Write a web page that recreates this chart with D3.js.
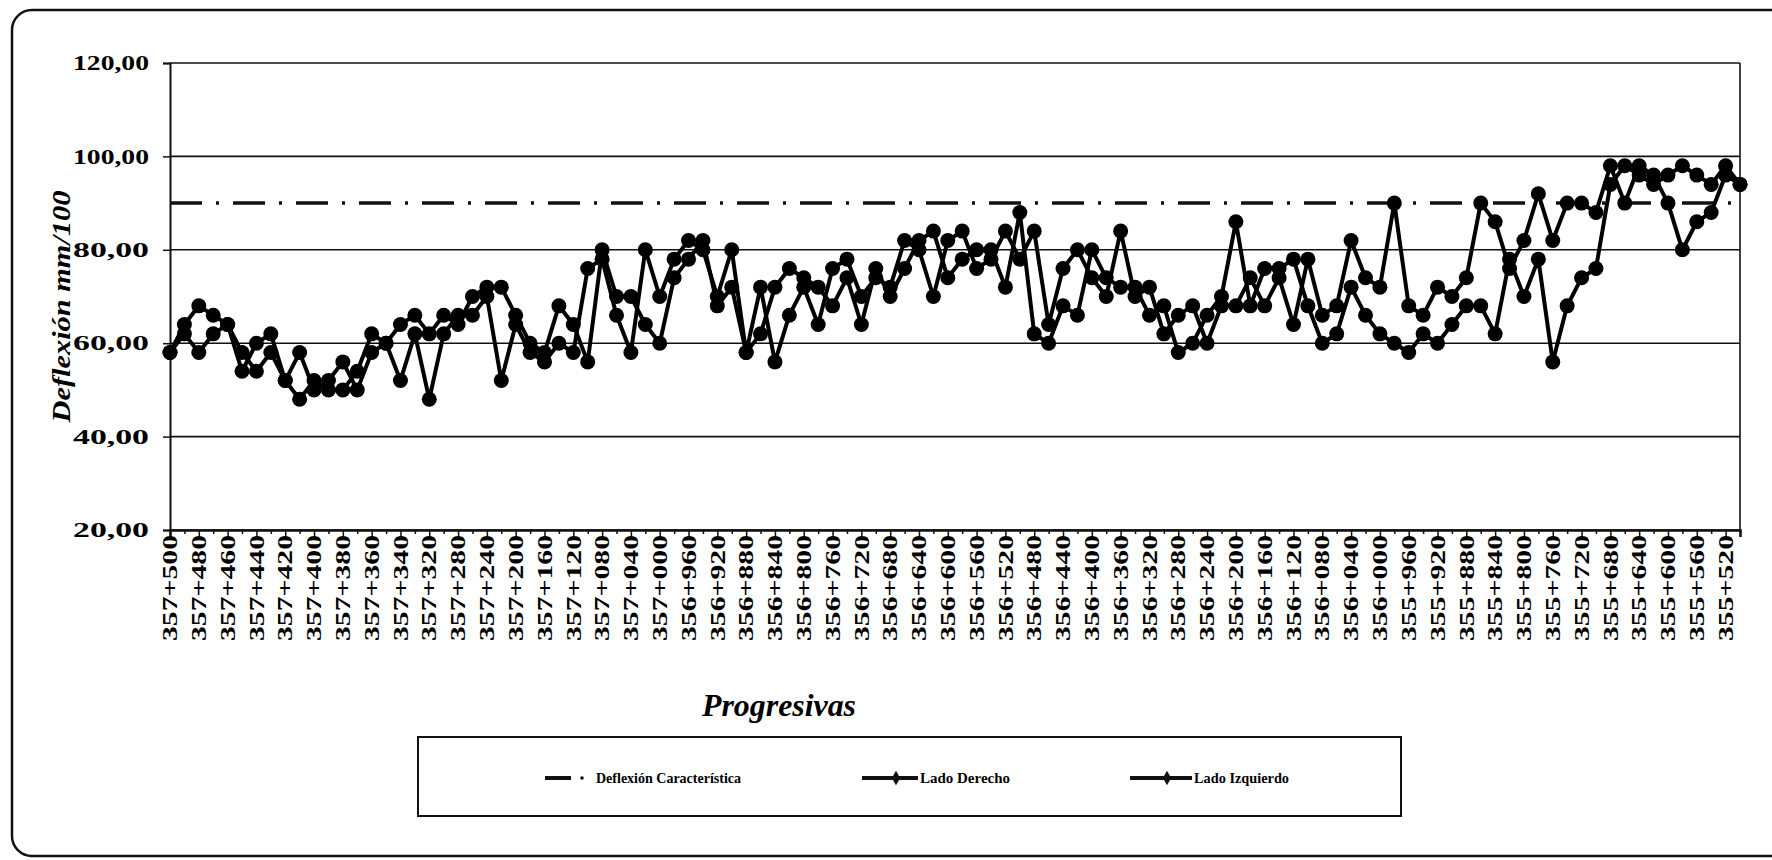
<!DOCTYPE html>
<html>
<head>
<meta charset="utf-8">
<style>
  body { margin: 0; background: #fff; overflow: hidden; }
  svg { display: block; }
  svg text { font-family: "Liberation Serif", "Times New Roman", serif; fill: #000; }
</style>
<script src="https://d3js.org/d3.v7.min.js"></script>
</head>
<body>
<svg width="1772" height="860"></svg>
<script>

// progresivas (every other one is labelled on the axis)
var progresivas = [
  "357+500","357+490","357+480","357+470","357+460","357+450","357+440","357+430","357+420","357+410",
  "357+400","357+390","357+380","357+370","357+360","357+350","357+340","357+330","357+320",
  "357+300","357+280","357+260","357+240","357+220","357+200","357+180","357+160","357+140","357+120",
  "357+100","357+080","357+060","357+040","357+020","357+000",
  "356+980","356+960","356+940","356+920","356+900","356+880","356+860","356+840","356+820","356+800",
  "356+780","356+760","356+740","356+720","356+700","356+680","356+660","356+640","356+620","356+600",
  "356+580","356+560","356+540","356+520","356+500","356+480","356+460","356+440","356+420","356+400",
  "356+380","356+360","356+340","356+320","356+300","356+280","356+260","356+240","356+220","356+200",
  "356+180","356+160","356+140","356+120","356+100","356+080","356+060","356+040","356+020","356+000",
  "355+980","355+960","355+940","355+920","355+900","355+880","355+860","355+840","355+820","355+800",
  "355+780","355+760","355+740","355+720","355+700","355+680","355+660","355+640","355+620","355+600",
  "355+580","355+560","355+540","355+520","355+500"
];

var ladoDerecho = [
  58,64,68,66,64,58,54,58,52,58, 50,52,56,50,58,60,64,66,62,66,
  64,70,72,72,66,60,58,68,64,56, 80,70,70,64,60,74,78,82,68,72,
  58,62,72,76,74,72,68,74,64,76, 70,76,82,84,74,78,80,80,72,88,
  62,60,68,66,80,74,72,72,66,68, 58,60,66,70,86,68,76,76,78,68,
  60,62,72,66,62,60,58,62,60,64, 68,68,62,78,70,78,56,68,74,76,
  94,98,96,94,96,98,96,94,98,94
];

var ladoIzquierdo = [
  58,62,58,62,64,54,60,62,52,48, 52,50,50,54,62,60,52,62,48,62,
  66,66,70,52,64,58,56,60,58,76, 78,66,58,80,70,78,82,80,70,80,
  58,72,56,66,72,64,76,78,70,74, 72,82,80,70,82,84,76,78,84,78,
  84,64,76,80,74,70,84,70,72,62, 66,68,60,68,68,74,68,74,64,78,
  66,68,82,74,72,90,68,66,72,70, 74,90,86,76,82,92,82,90,90,88,
  98,90,98,96,90,80,86,88,96,94
];

var deflexionCaracteristica = 90;

var yTicks = [20, 40, 60, 80, 100, 120];

var svg = d3.select("svg");

// marco redondeado del grafico (el borde derecho queda fuera de la imagen)
svg.append("rect")
  .attr("x", 12).attr("y", 10)
  .attr("width", 1900).attr("height", 846)
  .attr("rx", 20).attr("ry", 20)
  .attr("fill", "none").attr("stroke", "#111").attr("stroke-width", 2.5);

var margin = {top: 63, left: 170},
    width = 1570,
    height = 467,
    g = svg.append("g").attr("transform", "translate(" + margin.left + "," + margin.top + ")");

var x = d3.scalePoint().domain(progresivas).range([0, width]),
    y = d3.scaleLinear().domain([20, 120]).range([height, 0]);

// grilla horizontal
g.selectAll(".grid")
  .data(yTicks)
  .enter().append("line")
    .attr("x1", 0).attr("x2", width)
    .attr("y1", function(d) { return y(d); })
    .attr("y2", function(d) { return y(d); })
    .attr("stroke", "#111").attr("stroke-width", 1.6);

// borde derecho del area
g.append("line")
  .attr("x1", width).attr("x2", width).attr("y1", 0).attr("y2", height)
  .attr("stroke", "#111").attr("stroke-width", 1.6);

// eje Y
var yAxis = g.append("g")
  .call(d3.axisLeft(y).tickValues(yTicks).tickSize(7).tickPadding(14)
    .tickFormat(function(d) { return d3.format(".2f")(d).replace(".", ","); }));
yAxis.select(".domain").attr("stroke", "#111").attr("stroke-width", 2);
yAxis.selectAll(".tick line").attr("stroke", "#111").attr("stroke-width", 1.5);
yAxis.selectAll(".tick text")
  .attr("font-size", 21).attr("font-weight", "bold")
  .attr("font-family", "Liberation Serif, serif")
  .attr("textLength", 76).attr("lengthAdjust", "spacingAndGlyphs");

// eje X
var xAxis = g.append("g")
  .attr("transform", "translate(0," + height + ")")
  .call(d3.axisBottom(x).tickSize(7).tickFormat(""));
xAxis.select(".domain").attr("stroke", "#111").attr("stroke-width", 2.5);
xAxis.selectAll(".tick line")
  .attr("stroke", "#111").attr("stroke-width", 1.5)
  .attr("y2", function(d, i) { return i % 2 === 0 ? 8 : 4; });

g.selectAll(".xlabel")
  .data(progresivas.filter(function(d, i) { return i % 2 === 0; }))
  .enter().append("text")
    .attr("transform", function(d) { return "translate(" + x(d) + "," + (height + 5) + ") rotate(-90)"; })
    .attr("text-anchor", "end")
    .attr("dy", "0.36em")
    .attr("font-size", 20).attr("font-weight", "bold")
    .attr("textLength", 106).attr("lengthAdjust", "spacingAndGlyphs")
    .text(function(d) { return d; });

// deflexion caracteristica
g.append("line")
  .attr("x1", x(progresivas[0])).attr("x2", x(progresivas[progresivas.length - 1]))
  .attr("y1", y(deflexionCaracteristica)).attr("y2", y(deflexionCaracteristica))
  .attr("stroke", "#111").attr("stroke-width", 3.5)
  .attr("stroke-dasharray", "32,14,3,14");

var line = d3.line()
  .x(function(d, i) { return x(progresivas[i]); })
  .y(function(d) { return y(d); });

[ladoDerecho, ladoIzquierdo].forEach(function(serie) {
  g.append("path")
    .datum(serie)
    .attr("d", line)
    .attr("fill", "none").attr("stroke", "#000").attr("stroke-width", 4)
    .attr("stroke-linejoin", "round");
});

[ladoDerecho, ladoIzquierdo].forEach(function(serie) {
  g.selectAll(null)
    .data(serie)
    .enter().append("circle")
      .attr("cx", function(d, i) { return x(progresivas[i]); })
      .attr("cy", function(d) { return y(d); })
      .attr("r", 7.5)
      .attr("fill", "#000");
});

// titulos
svg.append("text")
  .attr("transform", "translate(70," + (margin.top + height / 2 + 10) + ") rotate(-90)")
  .attr("text-anchor", "middle")
  .attr("font-size", 25).attr("font-weight", "bold").attr("font-style", "italic")
  .attr("textLength", 232).attr("lengthAdjust", "spacingAndGlyphs")
  .text("Deflexión mm/100");

svg.append("text")
  .attr("x", 779).attr("y", 716)
  .attr("text-anchor", "middle")
  .attr("font-size", 32).attr("font-weight", "bold").attr("font-style", "italic")
  .attr("textLength", 154).attr("lengthAdjust", "spacingAndGlyphs")
  .text("Progresivas");

// leyenda
var legend = svg.append("g");
legend.append("rect")
  .attr("x", 418).attr("y", 737).attr("width", 983).attr("height", 79)
  .attr("fill", "none").attr("stroke", "#111").attr("stroke-width", 2);

var ly = 778;
legend.append("line")
  .attr("x1", 545).attr("x2", 571).attr("y1", ly).attr("y2", ly)
  .attr("stroke", "#111").attr("stroke-width", 4);
legend.append("circle").attr("cx", 582).attr("cy", ly).attr("r", 1.8).attr("fill", "#111");

var items = [
  {x1: 862, x2: 918, text: "Lado Derecho", tl: 90},
  {x1: 1130, x2: 1192, text: "Lado Izquierdo", tl: 95}
];
items.forEach(function(it) {
  legend.append("line")
    .attr("x1", it.x1).attr("x2", it.x2).attr("y1", ly).attr("y2", ly)
    .attr("stroke", "#111").attr("stroke-width", 4);
  var cx = (it.x1 + it.x2) / 2 + 6;
  legend.append("path")
    .attr("d", d3.symbol().type(d3.symbolDiamond).size(60))
    .attr("transform", "translate(" + cx + "," + ly + ")")
    .attr("fill", "#111");
  legend.append("text")
    .attr("x", it.x2 + 2).attr("y", ly).attr("dy", "0.35em")
    .attr("font-size", 14).attr("font-weight", "bold")
    .attr("textLength", it.tl).attr("lengthAdjust", "spacingAndGlyphs")
    .text(it.text);
});
legend.append("text")
  .attr("x", 596).attr("y", ly).attr("dy", "0.35em")
  .attr("font-size", 14).attr("font-weight", "bold")
  .attr("textLength", 145).attr("lengthAdjust", "spacingAndGlyphs")
  .text("Deflexión Característica");

</script>
</body>
</html>
